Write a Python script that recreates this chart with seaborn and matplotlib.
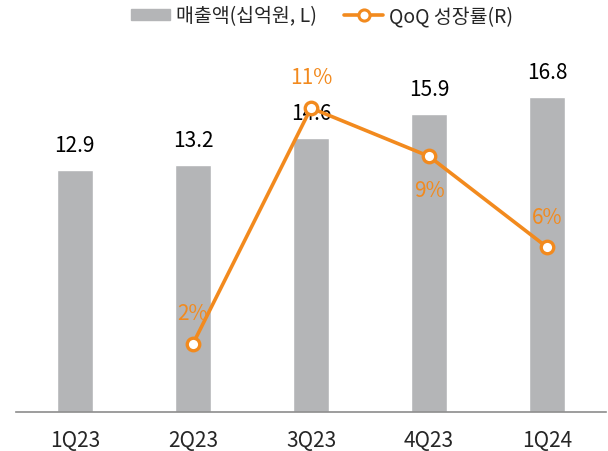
import pandas as pd
import matplotlib.pyplot as plt
import seaborn as sns
from matplotlib.lines import Line2D
from matplotlib.patches import Patch

sns.set_theme(style="white")
plt.rcParams['font.family'] = ['Noto Sans CJK KR', 'DejaVu Sans']

# 데이터
quarters = ['1Q23', '2Q23', '3Q23', '4Q23', '1Q24']
sales = [12.9, 13.2, 14.6, 15.9, 16.8]          # 매출액 (십억원, 좌축)
qoq = [None, 2.3, 10.6, 8.9, 5.7]               # QoQ 성장률 (%, 우축)
qoq_pos = ['above', 'above', 'above', 'below', 'above']

bar_color = '#b4b5b7'
line_color = '#f28a1e'

df = pd.DataFrame({'quarter': quarters, 'sales': sales, 'qoq': qoq, 'idx': range(len(quarters))})

fig = plt.figure(figsize=(6.08, 4.52), dpi=100)
ax = fig.add_axes([0.026, 0.086, 0.971, 0.83])

sns.barplot(data=df, x='quarter', y='sales', color=bar_color, width=0.3,
            saturation=1, ax=ax)
ax.set_xlim(-0.5, 4.5)
ax.set_ylim(0, 20)

for i, v in enumerate(sales):
    ax.annotate(f"{v:.1f}", (i, v), xytext=(0, 18), textcoords='offset points',
                ha='center', va='center', fontsize=15, color='black')

ax2 = ax.twinx()
d2 = df.dropna(subset=['qoq'])
sns.lineplot(data=d2, x='idx', y='qoq', color=line_color, lw=2.6, marker='o',
             markersize=9, markerfacecolor='white', markeredgecolor=line_color,
             markeredgewidth=2.4, ax=ax2)
ax2.set_ylim(-0.1, 13.1)
ax2.set_xlim(-0.5, 4.5)
for i, v, p in zip(d2['idx'], d2['qoq'], qoq_pos[1:]):
    off = 22 if p == 'above' else -24
    ax2.annotate(f"{v:.0f}%", (i, v), xytext=(0, off), textcoords='offset points',
                 ha='center', va='center', fontsize=15, color=line_color)

# 축 스타일
for a in (ax, ax2):
    for s in ['top', 'right', 'left']:
        a.spines[s].set_visible(False)
    a.set_ylabel('')
    a.set_xlabel('')
    a.set_yticks([])
ax2.spines['bottom'].set_visible(False)
ax.spines['bottom'].set_color('#8c8c8c')
ax.spines['bottom'].set_linewidth(1.2)
ax.set_xticks(range(len(quarters)))
ax.set_xticklabels(quarters, fontsize=15)
ax.tick_params(axis='x', which='major', length=0, pad=12)
ax.set_xticks([i - 0.5 for i in range(len(quarters) + 1)], minor=True)
ax.tick_params(axis='x', which='minor', direction='in', length=5, color='#8c8c8c', width=1.2)

handles = [Patch(color=bar_color, label='매출액(십억원, L)'),
           Line2D([0], [0], color=line_color, lw=2.6, marker='o', markersize=8,
                  markerfacecolor='white', markeredgewidth=2.2, label='QoQ 성장률(R)')]
fig.legend(handles=handles, loc='upper center', bbox_to_anchor=(0.53, 1.025), ncol=2,
           frameon=False, fontsize=14, handlelength=2.0, columnspacing=1.4,
           handleheight=0.5, handletextpad=0.3)

plt.savefig('out.png', dpi=100)
